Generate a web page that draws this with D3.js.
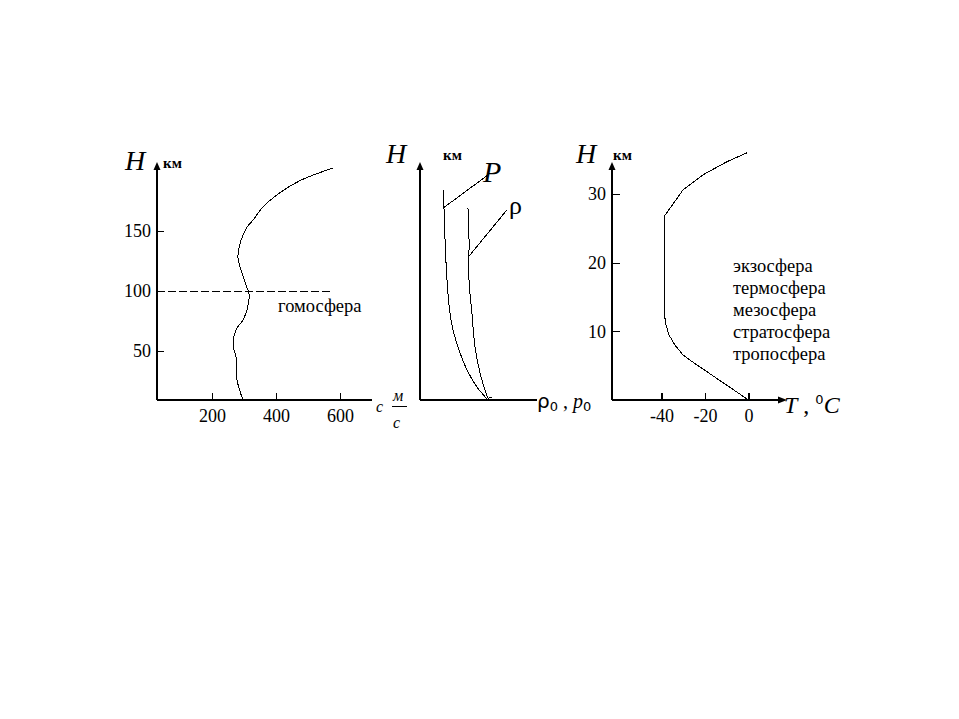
<!DOCTYPE html>
<html><head><meta charset="utf-8">
<script src="https://cdn.jsdelivr.net/npm/d3@7/dist/d3.min.js"></script>
<style>body{margin:0;background:#fff}svg{display:block}text{font-family:"Liberation Serif","Times New Roman",serif;fill:#000}line,path{shape-rendering:crispEdges}</style>
</head><body>
<script>
// ---- Panel 1: speed of sound c (m/s) vs height H (km)
const soundTicksX = [200, 400, 600];
const soundTicksY = [50, 100, 150];
const soundC = [297, 278, 275, 266, 275, 297, 309, 316, 309, 294, 281, 291, 309, 328, 359, 413, 475, 578];
const soundH = [9, 26, 45, 55, 67.5, 76, 84, 97, 103, 115, 128, 142.5, 153, 159, 170, 182, 192, 202.5];
const homosphereH = 100;
const homosphereC = [28, 570];
const homosphereLabel = "гомосфера";

// ---- Panel 2: pressure P and density ρ vs height
const pressureX = [2.05, 2.05, 2.14, 2.31, 2.56, 2.82, 3.42, 4.02, 4.87, 5.73];
const pressureH = [18.1, 16.55, 13.8, 10.3, 7.5, 6.03, 4.05, 2.59, 1.12, 0.09];
const densityX = [4.10, 4.19, 4.19, 4.44, 4.70, 5.13, 5.64, 5.81, 6.15];
const densityH = [16.55, 13.8, 10.3, 7.5, 4.57, 2.33, 0.6, 0.17, 0.26];
const pLeaderFrom = [2.05, 16.6], pLeaderTo = [5.81, 19.4];
const rhoLeaderFrom = [4.19, 12.4], rhoLeaderTo = [7.44, 16.4];

// ---- Panel 3: temperature T (°C) vs height H (km)
const tempTicksX = [-40, -20, 0];
const tempTicksY = [10, 20, 30];
const tempT = [0, -25.5, -30.1, -33.8, -36.6, -37.9, -38.4, -38.4, -30.1, -20.9, -9.9, -0.7];
const tempH = [0, 5.5, 6.55, 8.0, 9.5, 10.9, 11.9, 26.9, 30.6, 32.8, 34.7, 36.0];
const layerNames = ["экзосфера", "термосфера", "мезосфера", "стратосфера", "тропосфера"];

const W = 959, H = 719;
const svg = d3.select("body").append("svg").attr("width", W).attr("height", H);
const serif = '"Liberation Serif","Times New Roman",serif';
const sans = '"DejaVu Sans",sans-serif';

function arrowUp(x, tip) {
  svg.append("path").attr("d", `M${x},${tip}L${x-3.5},${tip+8}L${x+3.5},${tip+8}Z`).attr("fill", "#000").style("shape-rendering", "auto");
}
function arrowRight(tip, y) {
  svg.append("path").attr("d", `M${tip},${y}L${tip-9},${y-3.5}L${tip-9},${y+3.5}Z`).attr("fill", "#000").style("shape-rendering", "auto");
}
function axisLine(x1, y1, x2, y2) {
  svg.append("line").attr("x1", x1).attr("y1", y1).attr("x2", x2).attr("y2", y2)
    .attr("stroke", "#000").attr("stroke-width", 1.5);
}
function styleAxis(g, size) {
  g.select(".domain").remove();
  g.selectAll(".tick line").attr("stroke", "#000").attr("stroke-width", 1.3);
  g.selectAll(".tick text").attr("font-family", serif).attr("font-size", size).attr("fill", "#000");
}
const plain = d => String(d);

// ===== Panel 1 =====
const x1 = d3.scaleLinear().domain([0, 600]).range([148, 340]);
const y1 = d3.scaleLinear().domain([0, 150]).range([411, 231]);
const ax1 = 157, base1 = 400;
axisLine(ax1, base1, ax1, 168);
arrowUp(ax1, 162);
axisLine(ax1, base1, 372, base1);
styleAxis(svg.append("g").attr("transform", `translate(${ax1},0)`)
  .call(d3.axisLeft(y1).tickValues(soundTicksY).tickFormat(plain).tickSizeInner(-7).tickSizeOuter(0).tickPadding(6)), 18);
styleAxis(svg.append("g").attr("transform", `translate(0,${base1})`)
  .call(d3.axisBottom(x1).tickValues(soundTicksX).tickFormat(plain).tickSizeInner(-7).tickSizeOuter(0).tickPadding(9)), 18);
svg.append("line").attr("x1", x1(homosphereC[0])).attr("x2", x1(homosphereC[1]))
  .attr("y1", y1(homosphereH)).attr("y2", y1(homosphereH))
  .attr("stroke", "#000").attr("stroke-width", 1).attr("stroke-dasharray", "8,3");
svg.append("path").datum(d3.zip(soundC, soundH))
  .attr("d", d3.line().x(d => x1(d[0])).y(d => y1(d[1])).curve(d3.curveCatmullRom.alpha(0.5)))
  .attr("fill", "none").attr("stroke", "#000").attr("stroke-width", 1);
svg.append("text").attr("x", 278).attr("y", 312).attr("font-size", 18.5).text(homosphereLabel);
svg.append("text").attr("x", 125).attr("y", 170).attr("font-size", 28).attr("font-style", "italic").text("H");
svg.append("text").attr("x", 163).attr("y", 168).attr("font-size", 15).attr("font-weight", "bold").text("км");
svg.append("text").attr("x", 376).attr("y", 412).attr("font-size", 16).attr("font-style", "italic").text("c");
svg.append("text").attr("x", 393).attr("y", 401).attr("font-size", 16).attr("font-style", "italic").text("м");
svg.append("line").attr("x1", 392).attr("x2", 407).attr("y1", 406).attr("y2", 406).attr("stroke", "#000").attr("stroke-width", 1);
svg.append("text").attr("x", 393).attr("y", 428).attr("font-size", 16).attr("font-style", "italic").text("c");

// ===== Panel 2 =====
const x2 = d3.scaleLinear().domain([0, 10]).range([420, 537]);
const y2 = d3.scaleLinear().domain([0, 20]).range([400, 168]);
axisLine(420, 400, 420, 168);
arrowUp(420, 162);
axisLine(420, 400, 537, 400);
const line2 = d3.line().x(d => x2(d[0])).y(d => y2(d[1])).curve(d3.curveCatmullRom.alpha(0.5));
svg.append("path").datum(d3.zip(pressureX, pressureH)).attr("d", line2)
  .attr("fill", "none").attr("stroke", "#000").attr("stroke-width", 1);
svg.append("path").datum(d3.zip(densityX, densityH)).attr("d", line2)
  .attr("fill", "none").attr("stroke", "#000").attr("stroke-width", 1);
[[pLeaderFrom, pLeaderTo], [rhoLeaderFrom, rhoLeaderTo]].forEach(([a, b]) => {
  svg.append("line").attr("x1", x2(a[0])).attr("y1", y2(a[1])).attr("x2", x2(b[0])).attr("y2", y2(b[1]))
    .attr("stroke", "#000").attr("stroke-width", 1);
});
svg.append("text").attr("x", 386).attr("y", 163).attr("font-size", 28).attr("font-style", "italic").text("H");
svg.append("text").attr("x", 443).attr("y", 160).attr("font-size", 15).attr("font-weight", "bold").text("км");
svg.append("text").attr("x", 483).attr("y", 182).attr("font-size", 30).attr("font-style", "italic").text("P");
svg.append("text").attr("x", 509).attr("y", 214).attr("font-size", 26).attr("font-family", sans).text("ρ");
const lab2 = svg.append("text").attr("x", 537).attr("y", 408).attr("font-size", 20);
lab2.append("tspan").attr("font-family", sans).text("ρ");
lab2.append("tspan").attr("font-size", 13).attr("dy", 3).attr("font-family", sans).text("0");
lab2.append("tspan").attr("dy", -3).text(" , ");
lab2.append("tspan").attr("font-style", "italic").text("p");
lab2.append("tspan").attr("font-size", 13).attr("dy", 3).attr("font-family", sans).text("0");

// ===== Panel 3 =====
const x3 = d3.scaleLinear().domain([-40, 0]).range([661.5, 748.5]);
const y3 = d3.scaleLinear().domain([0, 30]).range([400, 194]);
const ax3 = 612;
axisLine(ax3, 400, ax3, 168);
arrowUp(ax3, 162);
axisLine(ax3, 400, 780, 400);
arrowRight(787, 400);
styleAxis(svg.append("g").attr("transform", `translate(${ax3},0)`)
  .call(d3.axisLeft(y3).tickValues(tempTicksY).tickFormat(plain).tickSizeInner(-8).tickSizeOuter(0).tickPadding(6)), 18);
styleAxis(svg.append("g").attr("transform", `translate(0,400)`)
  .call(d3.axisBottom(x3).tickValues(tempTicksX).tickFormat(plain).tickSizeInner(-7).tickSizeOuter(0).tickPadding(9)), 18);
svg.append("path").datum(d3.zip(tempT, tempH))
  .attr("d", d3.line().x(d => x3(d[0])).y(d => y3(d[1])))
  .attr("fill", "none").attr("stroke", "#000").attr("stroke-width", 1);
svg.append("text").attr("x", 576).attr("y", 163).attr("font-size", 28).attr("font-style", "italic").text("H");
svg.append("text").attr("x", 613).attr("y", 160).attr("font-size", 15).attr("font-weight", "bold").text("км");
svg.selectAll("text.layer").data(layerNames).join("text").attr("class", "layer")
  .attr("x", 733).attr("y", (d, i) => 272 + i * 22).attr("font-size", 18.5).text(d => d);
const lab3 = svg.append("text").attr("x", 784).attr("y", 413).attr("font-size", 24);
lab3.append("tspan").attr("font-style", "italic").text("T");
lab3.append("tspan").text(" , ");
lab3.append("tspan").attr("font-size", 13).attr("dy", -9).attr("font-family", sans).text("0");
lab3.append("tspan").attr("dy", 9).attr("font-style", "italic").text("C");
</script>
</body></html>
